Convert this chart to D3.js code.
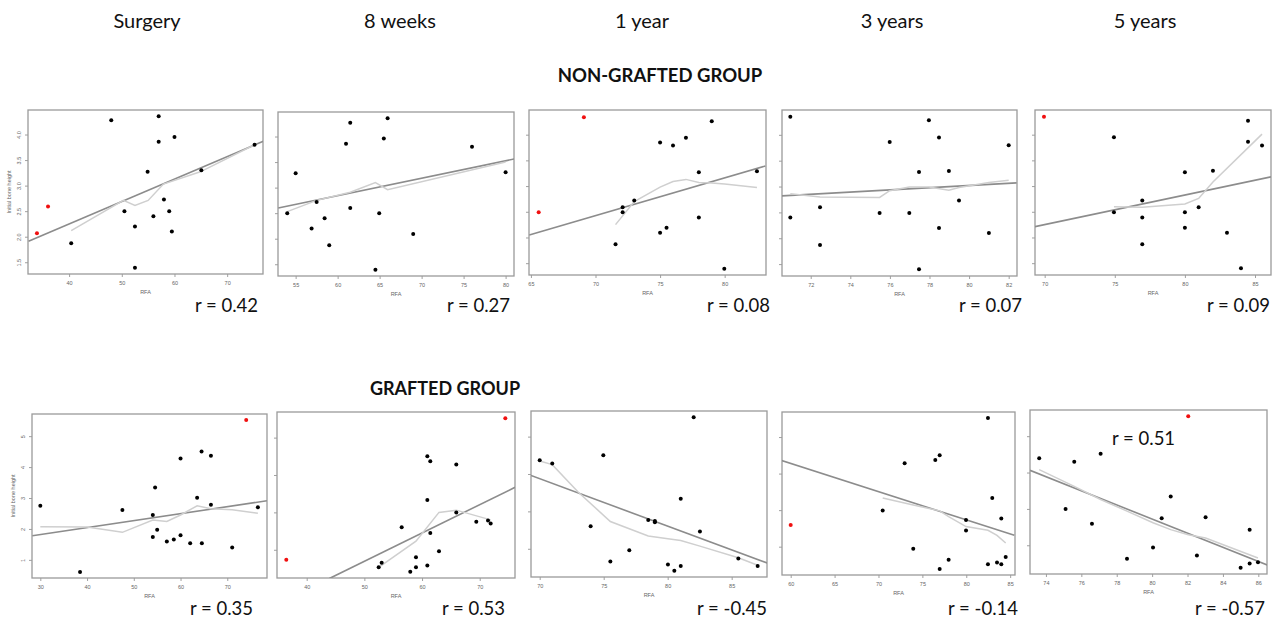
<!DOCTYPE html>
<html><head><meta charset="utf-8">
<script src="https://cdn.jsdelivr.net/npm/d3@7"></script>
<style>body{margin:0;background:#fff;} svg{display:block}</style>
</head><body><svg id="c" width="1279" height="620"></svg>
<script>
// ---------- DATA ----------
const timepoints = ["Surgery", "8 weeks", "1 year", "3 years", "5 years"];
const groupTitles = ["NON-GRAFTED GROUP", "GRAFTED GROUP"];
const rNonGrafted = ["0.42", "0.27", "0.08", "0.07", "0.09"];
const rGrafted = ["0.35", "0.53", "-0.45", "-0.14", "-0.57"];
const strayLabel = "0.51";
const xAxisTitle = "RFA";
const yAxisTitle = "Initial bone height";

// non-grafted group: [RFA, initial bone height]
const ngSurgeryPts = [[48.0,4.28],[57.0,4.36],[60.0,3.95],[57.0,3.86],[75.2,3.80],[54.9,3.27],[65.1,3.30],[58.0,2.73],[50.5,2.50],[59.0,2.50],[56.0,2.40],[52.5,2.20],[59.5,2.10],[40.4,1.87],[52.5,1.39]];
const ngSurgeryRed = [[36.0,2.59],[33.9,2.07]];
const ngSurgeryFit = [[32.3,1.91],[76.9,3.87]];
const ngSurgeryLowess = [[40.4,2.12],[50.3,2.71],[52.5,2.61],[55.0,2.71],[57.9,3.03],[64.9,3.27],[75.2,3.80]];

const ng8wPts = [[65.95,4.36],[61.5,4.27],[65.5,3.96],[61.0,3.86],[76.0,3.80],[80.0,3.30],[55.0,3.28],[57.5,2.72],[61.5,2.60],[54.0,2.50],[64.95,2.50],[58.45,2.40],[56.9,2.20],[69.0,2.09],[59.0,1.87],[64.5,1.39]];
const ng8wRed = [];
const ng8wFit = [[52.93,2.60],[81.02,3.56]];
const ng8wLowess = [[54.0,2.53],[57.5,2.75],[61.5,2.91],[64.5,3.10],[65.95,2.96],[80.0,3.50]];

const ng1yPts = [[79.0,4.26],[75.0,3.85],[77.0,3.94],[76.0,3.79],[78.0,3.27],[82.5,3.29],[73.0,2.72],[72.1,2.59],[72.1,2.49],[78.0,2.39],[75.5,2.19],[75.0,2.09],[71.55,1.87],[79.97,1.39]];
const ng1yRed = [[69.1,4.34],[65.6,2.49]];
const ng1yFit = [[64.87,2.05],[83.15,3.39]];
const ng1yLowess = [[71.55,2.25],[73.0,2.70],[75.0,2.98],[76.0,3.09],[77.0,3.13],[78.0,3.07],[79.0,3.06],[80.0,3.04],[82.5,2.97]];

const ng3yPts = [[70.97,4.35],[77.97,4.28],[78.48,3.95],[75.99,3.86],[82.0,3.80],[77.47,3.28],[78.98,3.30],[79.49,2.73],[72.47,2.60],[70.97,2.40],[75.48,2.49],[76.98,2.49],[78.48,2.20],[81.0,2.10],[72.47,1.87],[77.47,1.40]];
const ng3yRed = [];
const ng3yFit = [[70.54,2.82],[82.4,3.07]];
const ng3yLowess = [[70.97,2.86],[72.47,2.80],[75.48,2.79],[75.99,2.92],[76.98,2.99],[77.97,2.99],[78.98,2.93],[79.49,2.98],[81.0,3.08],[82.0,3.12]];

const ng5yPts = [[84.5,4.27],[74.94,3.95],[84.5,3.86],[85.5,3.79],[80.0,3.27],[82.0,3.30],[76.96,2.72],[80.98,2.59],[74.94,2.49],[80.0,2.49],[76.96,2.39],[80.0,2.19],[83.0,2.09],[76.96,1.87],[84.0,1.40]];
const ng5yRed = [[69.95,4.35]];
const ng5yFit = [[69.31,2.21],[86.14,3.18]];
const ng5yLowess = [[74.94,2.60],[76.96,2.59],[80.0,2.65],[80.98,2.76],[82.0,3.08],[85.5,4.01]];

// grafted group
const gSurgeryPts = [[64.5,4.50],[66.5,4.37],[60.0,4.28],[54.56,3.34],[63.55,3.01],[30.0,2.75],[66.5,2.78],[76.55,2.70],[47.56,2.61],[54.07,2.45],[55.0,1.97],[54.07,1.74],[60.0,1.80],[58.56,1.66],[57.07,1.59],[62.06,1.54],[64.56,1.54],[71.05,1.40],[38.5,0.61]];
const gSurgeryRed = [[74.05,5.52]];
const gSurgeryFit = [[28.29,1.78],[78.48,2.91]];
const gSurgeryLowess = [[30,2.07],[40,2.06],[47.56,1.89],[54.07,2.29],[57.07,2.24],[60,2.45],[63.55,2.75],[66.5,2.65],[71.05,2.62],[76.55,2.51]];

const g8wPts = [[60.92,4.50],[61.43,4.37],[65.94,4.28],[60.92,3.33],[65.94,3.00],[69.41,2.75],[71.44,2.78],[71.9,2.70],[56.47,2.60],[61.43,2.45],[62.94,1.96],[58.95,1.80],[53.0,1.65],[52.48,1.53],[58.95,1.53],[60.92,1.58],[57.96,1.41]];
const g8wRed = [[74.44,5.52],[36.46,1.73]];
const g8wFit = [[43.92,1.23],[76.12,3.67]];
const g8wLowess = [[52.48,1.53],[58.95,2.23],[62.94,3.0],[65.94,3.06],[71.9,2.80]];

const g1yPts = [[82.03,5.52],[74.97,4.50],[70.0,4.37],[70.98,4.28],[81.02,3.34],[78.48,2.77],[79.0,2.74],[79.0,2.71],[82.52,2.46],[73.98,2.60],[77.0,1.96],[75.52,1.66],[80.02,1.58],[81.02,1.54],[80.52,1.41],[85.52,1.74],[87.03,1.54]];
const g1yRed = [];
const g1yFit = [[69.32,3.96],[87.78,1.62]];
const g1yLowess = [[70.0,4.35],[70.98,4.25],[73.02,3.51],[75.52,2.73],[78.48,2.34],[80.02,2.27],[81.02,2.22],[82.52,2.07],[85.52,1.76],[87.03,1.56]];

const g3yPts = [[82.47,5.52],[76.97,4.50],[76.47,4.37],[72.98,4.28],[82.96,3.33],[70.48,2.99],[83.99,2.77],[79.97,2.73],[79.97,2.44],[73.96,1.94],[77.99,1.64],[76.97,1.39],[82.47,1.52],[83.5,1.57],[83.99,1.52],[84.49,1.72]];
const g3yRed = [[60.0,2.59]];
const g3yFit = [[58.97,4.36],[85.47,2.31]];
const g3yLowess = [[70.48,3.33],[73.96,3.14],[76.97,2.98],[77.99,2.82],[79.97,2.55],[82.47,2.45],[83.5,2.31],[84.49,2.10]];

const g5yPts = [[77.09,4.52],[73.62,4.39],[75.6,4.30],[81.05,3.34],[75.11,3.0],[80.54,2.74],[83.02,2.77],[76.6,2.59],[85.51,2.43],[80.05,1.94],[82.53,1.72],[78.58,1.63],[85.0,1.38],[85.51,1.50],[85.98,1.53]];
const g5yRed = [[82.04,5.55]];
const g5yFit = [[73.1,4.06],[86.5,1.46]];
const g5yLowess = [[73.62,4.08],[75.6,3.62],[77.09,3.26],[78.58,2.94],[80.05,2.62],[81.05,2.43],[82.04,2.29],[83.02,2.20],[85.98,1.65]];

// axis domains & ticks
const xDomains = [[32.2,76.8],[52.9,81.0],[64.85,83.2],[70.55,82.42],[69.31,86.14],
                  [28.22,78.5],[34.85,76.12],[69.32,87.76],[59.01,85.55],[73.1,86.49]];
const yDomains = [[1.27,4.48],[1.27,4.48],[1.27,4.48],[1.27,4.48],[1.27,4.48],
                  [0.414,5.716],[1.245,5.685],[1.245,5.685],[1.225,5.685],[1.21,5.72]];
const xTicks = [[40,50,60,70],[55,60,65,70,75,80],[65,70,75,80],[72,74,76,78,80,82],[70,75,80,85],
                [30,40,50,60,70],[40,50,60,70],[70,75,80,85],[60,65,70,75,80,85],[74,76,78,80,82,84,86]];
const yTicksTop = [1.5,2.0,2.5,3.0,3.5,4.0];
const yTicksSurgeryGrafted = [1,2,3,4,5];
const yTicksGrafted = [2,3,4,5];

// ---------- LAYOUT ----------
const boxes = [[28,110,263,274],[278,112,514,276],[529,110,766,275],[782,110,1017,276],[1035,110,1271,275],
               [32,414,267,578],[277,412,515,578],[531,411,767,577],[782,412,1015,575],[1030,410,1267,574]];
const panels = [
  {pts:ngSurgeryPts, red:ngSurgeryRed, fit:ngSurgeryFit, lo:ngSurgeryLowess, yt:yTicksTop, ylab:true, r:rNonGrafted[0]},
  {pts:ng8wPts, red:ng8wRed, fit:ng8wFit, lo:ng8wLowess, yt:yTicksTop, ylab:false, r:rNonGrafted[1]},
  {pts:ng1yPts, red:ng1yRed, fit:ng1yFit, lo:ng1yLowess, yt:yTicksTop, ylab:false, r:rNonGrafted[2]},
  {pts:ng3yPts, red:ng3yRed, fit:ng3yFit, lo:ng3yLowess, yt:yTicksTop, ylab:false, r:rNonGrafted[3]},
  {pts:ng5yPts, red:ng5yRed, fit:ng5yFit, lo:ng5yLowess, yt:yTicksTop, ylab:false, r:rNonGrafted[4]},
  {pts:gSurgeryPts, red:gSurgeryRed, fit:gSurgeryFit, lo:gSurgeryLowess, yt:yTicksSurgeryGrafted, ylab:true, r:rGrafted[0]},
  {pts:g8wPts, red:g8wRed, fit:g8wFit, lo:g8wLowess, yt:yTicksGrafted, ylab:false, r:rGrafted[1]},
  {pts:g1yPts, red:g1yRed, fit:g1yFit, lo:g1yLowess, yt:yTicksGrafted, ylab:false, r:rGrafted[2]},
  {pts:g3yPts, red:g3yRed, fit:g3yFit, lo:g3yLowess, yt:yTicksGrafted, ylab:false, r:rGrafted[3]},
  {pts:g5yPts, red:g5yRed, fit:g5yFit, lo:g5yLowess, yt:yTicksGrafted, ylab:false, r:rGrafted[4]}
];
const rRight = [258,510,770,1022,1270,253,505,767,1018,1265];
const rBase = [312,312,312,312,312,615,615,615,615,615];
const titleX = [147,400,642,892,1145];

const svg = d3.select("#c");
const FONT = "Lato, 'Open Sans', sans-serif";

// column titles
svg.selectAll("text.col").data(timepoints).join("text")
  .attr("x",(d,i)=>titleX[i]).attr("y",28).attr("text-anchor","middle")
  .attr("font-family",FONT).attr("font-size",20).attr("fill","#111").text(d=>d);
// group titles
svg.append("text").attr("x",660).attr("y",82).attr("text-anchor","middle")
  .attr("font-family",FONT).attr("font-weight","bold").attr("font-size",18.5).attr("fill","#111").text(groupTitles[0]);
svg.append("text").attr("x",445).attr("y",395).attr("text-anchor","middle")
  .attr("font-family",FONT).attr("font-weight","bold").attr("font-size",18).attr("fill","#111").text(groupTitles[1]);

panels.forEach((p,i)=>{
  const [x0,y0,x1,y1] = boxes[i];
  const x = d3.scaleLinear().domain(xDomains[i]).range([x0,x1]);
  const y = d3.scaleLinear().domain(yDomains[i]).range([y1,y0]);
  const g = svg.append("g");
  const cid = "clip"+i;
  svg.append("clipPath").attr("id",cid).append("rect")
    .attr("x",x0).attr("y",y0).attr("width",x1-x0).attr("height",y1-y0);

  // x axis
  const ax = g.append("g").attr("transform",`translate(0,${y1})`)
    .call(d3.axisBottom(x).tickValues(xTicks[i]).tickSize(3).tickSizeOuter(0).tickFormat(d3.format("d")));
  ax.select(".domain").remove();
  ax.selectAll("line").attr("stroke","#777").attr("stroke-width",0.7);
  ax.selectAll("text").attr("font-size",5.5).attr("fill","#666").attr("font-family","Liberation Sans, Arial").attr("dy","0.9em");
  // y axis
  const ay = g.append("g").attr("transform",`translate(${x0},0)`)
    .call(d3.axisLeft(y).tickValues(p.yt).tickSize(3).tickSizeOuter(0)
      .tickFormat(p.yt[0]%1!==0 ? d3.format(".1f") : d3.format("d")));
  ay.select(".domain").remove();
  ay.selectAll("line").attr("stroke","#777").attr("stroke-width",0.7);
  if (p.ylab) {
    ay.selectAll("text").attr("font-size",5.5).attr("fill","#666").attr("font-family","Liberation Sans, Arial")
      .attr("text-anchor","middle").attr("x",0).attr("dy",0)
      .attr("transform","translate(-7,0) rotate(-90)");
    g.append("text").attr("transform",`translate(${x0-17},${(y0+y1)/2}) rotate(-90)`)
      .attr("text-anchor","middle").attr("font-size",5.5).attr("fill","#666")
      .attr("font-family","Liberation Sans, Arial").text(yAxisTitle);
  } else {
    ay.selectAll("text").remove();
  }
  g.append("text").attr("x",(x0+x1)/2).attr("y",y1+20).attr("text-anchor","middle")
    .attr("font-size",5.5).attr("fill","#666").attr("font-family","Liberation Sans, Arial").text(xAxisTitle);

  // box
  g.append("rect").attr("x",x0).attr("y",y0).attr("width",x1-x0).attr("height",y1-y0)
    .attr("fill","none").attr("stroke","#9a9a9a").attr("stroke-width",1.3);

  const inner = g.append("g").attr("clip-path",`url(#${cid})`);
  // regression line
  inner.append("path").datum(p.fit)
    .attr("d",d3.line().x(d=>x(d[0])).y(d=>y(d[1])))
    .attr("fill","none").attr("stroke","#8c8c8c").attr("stroke-width",1.6);
  // lowess
  inner.append("path").datum(p.lo)
    .attr("d",d3.line().x(d=>x(d[0])).y(d=>y(d[1])))
    .attr("fill","none").attr("stroke","#cfcfcf").attr("stroke-width",1.5);
  // points
  inner.selectAll("circle.b").data(p.pts).join("circle")
    .attr("cx",d=>x(d[0])).attr("cy",d=>y(d[1])).attr("r",2).attr("fill","#000");
  inner.selectAll("circle.r").data(p.red).join("circle")
    .attr("cx",d=>x(d[0])).attr("cy",d=>y(d[1])).attr("r",2).attr("fill","#f01010");

  // r label
  svg.append("text").attr("x",rRight[i]).attr("y",rBase[i]).attr("text-anchor","end")
    .attr("font-family",FONT).attr("font-size",18.5).attr("fill","#111").text("r = "+p.r);
});
// stray label in last panel
svg.append("text").attr("x",1112).attr("y",445)
  .attr("font-family",FONT).attr("font-size",18.5).attr("fill","#111").text("r = "+strayLabel);
</script>
</body></html>
